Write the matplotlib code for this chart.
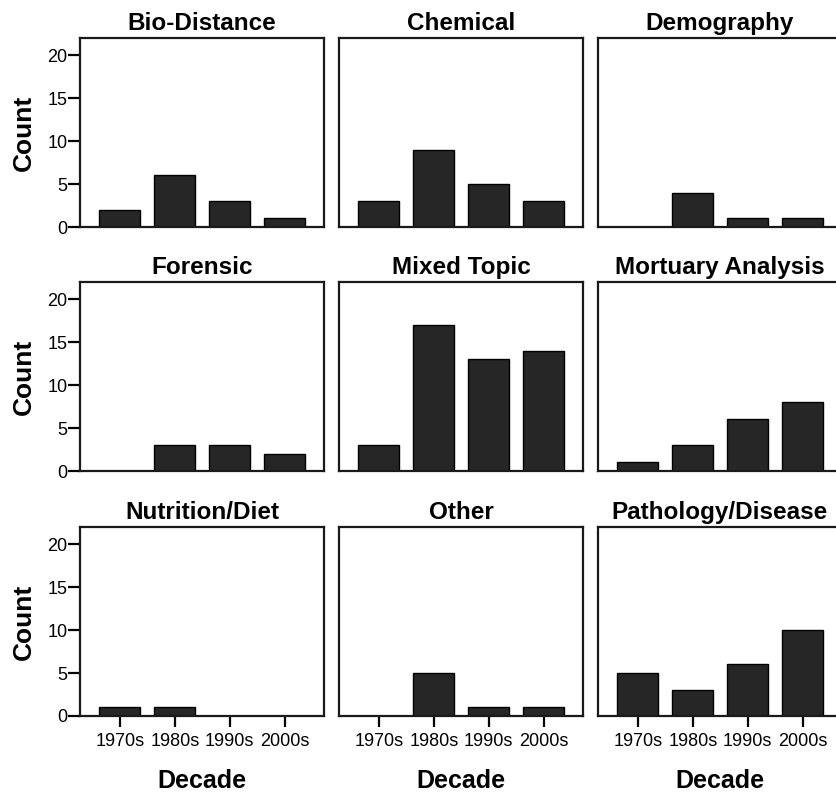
import matplotlib.pyplot as plt
import numpy as np

plt.rcParams['font.family'] = ['Liberation Sans', 'DejaVu Sans']

decades = ['1970s', '1980s', '1990s', '2000s']
topics = ['Bio-Distance', 'Chemical', 'Demography',
          'Forensic', 'Mixed Topic', 'Mortuary Analysis',
          'Nutrition/Diet', 'Other', 'Pathology/Disease']
bio_distance = [2, 6, 3, 1]
chemical = [3, 9, 5, 3]
demography = [0, 4, 1, 1]
forensic = [0, 3, 3, 2]
mixed_topic = [3, 17, 13, 14]
mortuary = [1, 3, 6, 8]
nutrition = [1, 1, 0, 0]
other = [0, 5, 1, 1]
pathology = [5, 3, 6, 10]
counts = [bio_distance, chemical, demography, forensic, mixed_topic,
          mortuary, nutrition, other, pathology]

W, H = 837, 795
fig = plt.figure(figsize=(W / 100, H / 100), dpi=100)

# panel positions in pixels (right column runs off the edge as in the original)
lefts = [80, 339, 598]
tops = [38, 282, 527]
pw, ph = 244, 189
x = np.arange(len(decades))

for i, (name, vals) in enumerate(zip(topics, counts)):
    r, c = divmod(i, 3)
    ax = fig.add_axes([lefts[c] / W, 1 - (tops[r] + ph) / H, pw / W, ph / H])
    ax.bar(x, vals, width=0.75, color='#262626', edgecolor='black', linewidth=1)
    ax.set_xlim(-0.725, 3.715)
    ax.set_ylim(0, 22)
    for s in ax.spines.values():
        s.set_linewidth(1.6)
        s.set_color('#1a1a1a')
    ax.set_title(name, fontsize=17.5, fontweight='bold', pad=6)
    if c == 0:
        ax.set_yticks([0, 5, 10, 15, 20])
        ax.tick_params(axis='y', length=9, width=1.6, labelsize=13, pad=0)
        ax.set_ylabel('Count', fontsize=19, fontweight='bold', labelpad=8)
    else:
        ax.set_yticks([])
    if r == 2:
        ax.set_xticks(x)
        ax.set_xticklabels(decades)
        ax.tick_params(axis='x', length=8, width=1.6, labelsize=13, pad=4)
        ax.set_xlabel('Decade', fontsize=18, fontweight='bold', labelpad=14)
    else:
        ax.set_xticks([])

fig.savefig('out.png', dpi=100)
